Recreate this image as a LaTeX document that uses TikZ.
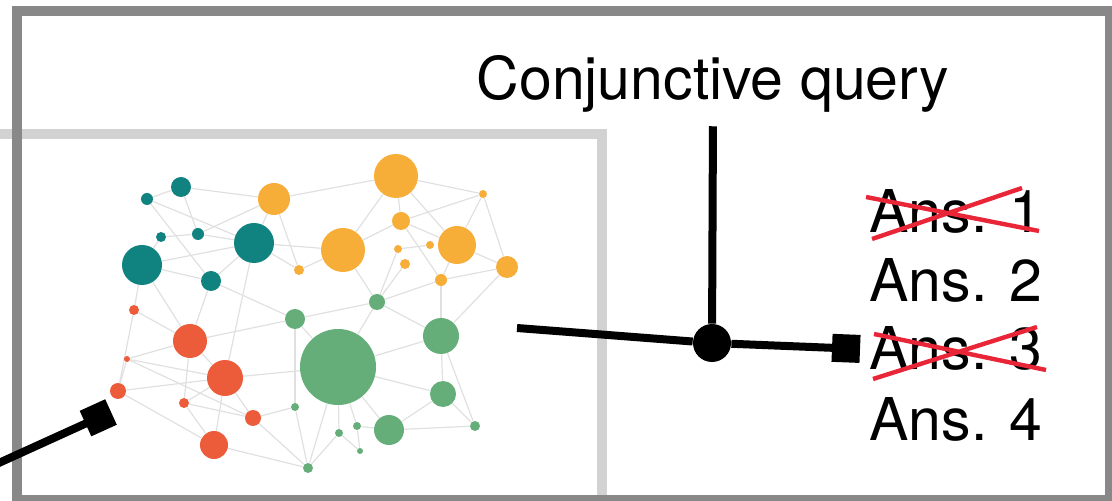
\documentclass[tikz,border=0pt]{standalone}
\usepackage{fontspec}
\setmainfont{TeX Gyre Heros}
\usetikzlibrary{arrows.meta,backgrounds}

\definecolor{kgteal}{RGB}{16,130,128}
\definecolor{kgorange}{RGB}{246,174,56}
\definecolor{kgred}{RGB}{236,92,58}
\definecolor{kggreen}{RGB}{101,174,122}
\definecolor{kgline}{RGB}{224,224,224}
\definecolor{framedark}{RGB}{136,136,136}
\definecolor{framelight}{RGB}{210,210,210}
\definecolor{strikered}{RGB}{232,38,56}

\tikzset{
  ent/.style={circle,inner sep=0pt,minimum size=#1pt},
  kgedge/.style={draw=kgline,line width=0.6pt},
  bigtext/.style={font=\fontsize{29.5}{35}\selectfont,inner sep=0pt},
  link/.style={line width=4pt},
  strike/.style={strikered,line width=2.2pt},
}

\begin{document}
\begin{tikzpicture}[x=0.5pt,y=-0.5pt]
      \useasboundingbox (0,0) rectangle (1112,501);
      % frames
      \draw[framelight,line width=5pt] (-10,134) -- (602,134) -- (602,520);
      \draw[framedark,line width=5pt] (17,11) rectangle (1110,500);
      % knowledge graph
      \foreach \n/\x/\y/\r in {t1/147/199/6,t2/181/187/10,t3/161/237/5,t4/198/234/6,
        t5/254/243/20,t6/142/265/20,t7/211/281/10}
        \node[ent=\r,fill=kgteal] (\n) at (\x,\y) {};
      \foreach \n/\x/\y/\r in {o1/274/199/16,o2/396/176/22,o3/483/194/4,o4/401/221/9,
        o5/343/250/22,o6/398/249/4,o7/430/245/4,o8/405/264/5,o9/457/245/19,
        o10/507/267/11,o11/441/280/6,o12/299/270/5}
        \node[ent=\r,fill=kgorange] (\n) at (\x,\y) {};
      \foreach \n/\x/\y/\r in {r1/134/310/5,r2/190/341/17,r3/127/359/3,r4/225/378/18,
        r5/118/391/8,r6/184/403/5,r7/253/418/8,r8/214/445/14}
        \node[ent=\r,fill=kgred] (\n) at (\x,\y) {};
      \foreach \n/\x/\y/\r in {g1/295/319/10,g2/377/302/8,g3/338/367/38,g4/441/336/18,
        g5/443/394/13,g6/389/430/15,g7/357/426/4,g8/339/433/4,g9/360/451/3,
        g10/475/426/5,g11/295/407/4,g12/308/468/5}
        \node[ent=\r,fill=kggreen] (\n) at (\x,\y) {};
      \begin{scope}[on background layer]
        \foreach \a/\b in {t1/t2,t1/t5,t1/t7,t2/o1,t2/t4,t3/t4,t3/t6,t6/t5,t6/t7,
          t6/r1,t4/t5,t5/o1,o1/o12,t5/o12,t5/t7,t4/o1,t5/r4,t7/g1,t7/r2,t6/r2,
          o2/o1,o2/o3,o2/o4,o2/o9,o2/o5,o3/o4,o3/o9,o3/o10,o4/o9,o4/o5,o4/o11,
          o5/g2,o5/t5,o6/o7,o6/g2,o8/g2,o9/o10,o9/o11,o11/o10,o11/g2,o11/g4,
          o10/g4,o5/o12,r1/r2,r1/r5,r2/r3,r2/r4,r2/g1,r2/r6,r3/r5,r3/r4,r3/r7,
          r5/r4,r5/r8,r6/r4,r6/r7,r6/r8,r4/r8,r4/r7,r4/g3,r7/g11,r7/g12,r8/g12,
          g1/g2,g1/g11,g1/g3,g11/g12,g3/g2,g3/g4,g3/g5,g3/g6,g3/g8,g3/g7,g3/g12,
          g4/g5,g4/g10,g5/g6,g5/g10,g6/g10,g6/g7,g8/g9,g7/g9,g8/g12,g2/g4}
          \draw[kgedge] (\a) -- (\b);
      \end{scope}
      % query and answers
      \node[bigtext,anchor=base] (cq) at (713,100) {Conjunctive query};
      \node[bigtext,anchor=base west] (ans1) at (869,233) {Ans. 1};
      \node[bigtext,anchor=base west] (ans2) at (869,302) {Ans. 2};
      \node[bigtext,anchor=base west] (ans3) at (869,370) {Ans. 3};
      \node[bigtext,anchor=base west] (ans4) at (869,441) {Ans. 4};
      \draw[strike] (866,197) -- (1039,231) (872,239) -- (1022,188);
      \draw[strike] (874,334) -- (1046,370) (873,379) -- (1037,327);
      % connectors
      \coordinate (lfree) at (-10,467);
      \coordinate (ltip) at (111,412);
      \coordinate (qfree) at (517,328);
      \node[circle,fill,inner sep=0pt,minimum size=19pt] (jn) at (712,343) {};
      \draw[link,-{Square[length=14pt,width=14pt]}] (lfree) -- (ltip);
      \draw[link] (qfree) -- (jn);
      \draw[link,shorten <=6.5pt] (cq.south) -- (jn);
      \draw[link,-{Square[length=14pt,width=14pt]}] (jn) -- ([xshift=-4.5pt]ans3.west);
\end{tikzpicture}
\end{document}
